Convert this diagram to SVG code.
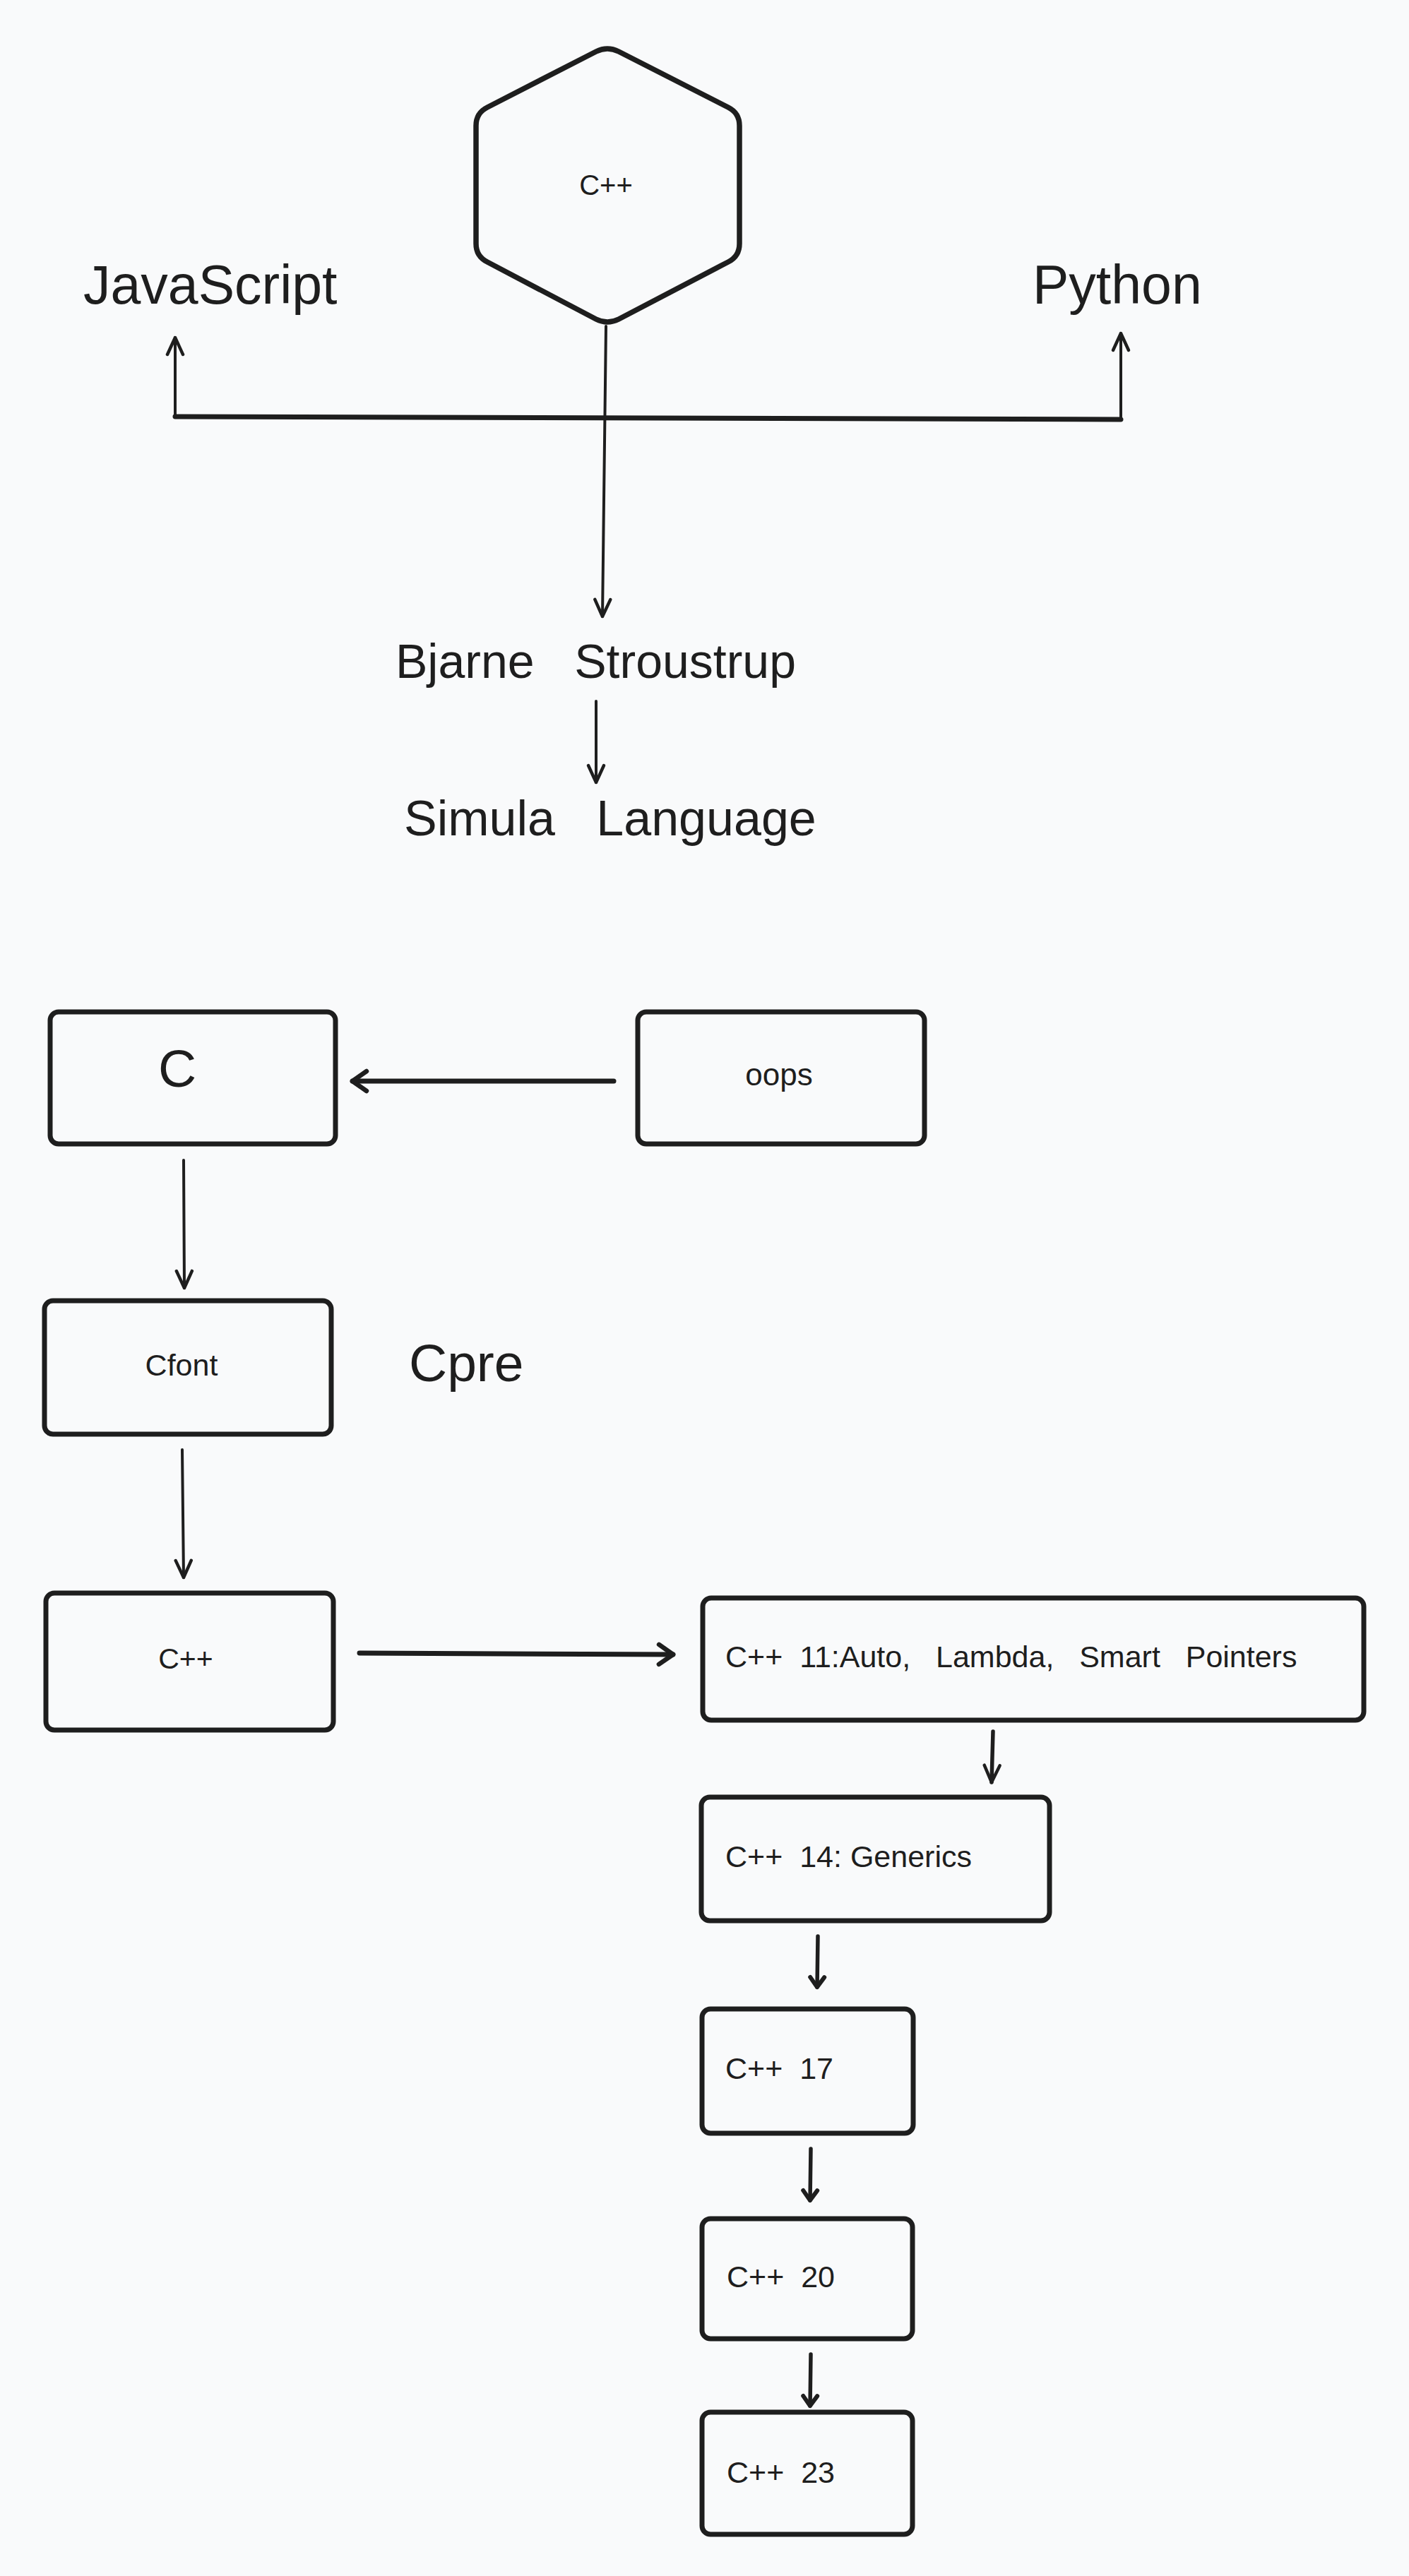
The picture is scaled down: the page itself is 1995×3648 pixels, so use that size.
<svg xmlns="http://www.w3.org/2000/svg" width="1995" height="3648" viewBox="0 0 1995 3648" xml:space="preserve">
<defs>
<style>
.bg{fill:#f9fafb}
.box{fill:#f9fafb;stroke:#1e1e1e;stroke-width:7;stroke-linejoin:round}
.t{font-family:"Liberation Sans",Arial,sans-serif;fill:#1e1e1e;white-space:pre}
.c{fill:none;stroke:#1e1e1e;stroke-linecap:round;stroke-linejoin:round}
.thin{stroke-width:4}
.mid{stroke-width:5.5}
.thick{stroke-width:7}
</style>
<marker id="hThin" markerUnits="userSpaceOnUse" viewBox="-40 -30 50 60" markerWidth="50" markerHeight="60" refX="0" refY="0" orient="auto" overflow="visible">
<path d="M -24,-11 L 0,0 L -24,11" fill="none" stroke="#1e1e1e" stroke-width="4.5" stroke-linecap="round" stroke-linejoin="round"/>
</marker>
<marker id="hThick" markerUnits="userSpaceOnUse" viewBox="-40 -30 50 60" markerWidth="50" markerHeight="60" refX="0" refY="0" orient="auto" overflow="visible">
<path d="M -20,-14 L 0,0 L -20,14" fill="none" stroke="#1e1e1e" stroke-width="6.5" stroke-linecap="round" stroke-linejoin="round"/>
</marker>
<marker id="hShort" markerUnits="userSpaceOnUse" viewBox="-40 -30 50 60" markerWidth="50" markerHeight="60" refX="0" refY="0" orient="auto" overflow="visible">
<path d="M -14,-10 L 0,0 L -14,10" fill="none" stroke="#1e1e1e" stroke-width="6" stroke-linecap="round" stroke-linejoin="round"/>
</marker>
</defs>
<rect class="bg" x="0" y="0" width="1995" height="3648"/>

<g id="connectors">
<path class="c thin" d="M 858,462 L 853,873" marker-end="url(#hThin)"/>
<path class="c thick" d="M 248,590 L 1587,594"/>
<path class="c thin" d="M 248,590 L 248,478" marker-end="url(#hThin)"/>
<path class="c thin" d="M 1587,594 L 1587,472" marker-end="url(#hThin)"/>
<path class="c thin" d="M 844,993 L 844,1108" marker-end="url(#hThin)"/>
<path class="c thick" d="M 869,1531 L 499,1531" marker-end="url(#hThick)"/>
<path class="c thin" d="M 260,1643 L 261,1824" marker-end="url(#hThin)"/>
<path class="c thin" d="M 258,2053 L 260,2234" marker-end="url(#hThin)"/>
<path class="c thick" d="M 509,2341 L 953,2343" marker-end="url(#hThick)"/>
<path class="c mid" d="M 1406,2452 L 1404,2524" marker-end="url(#hThin)"/>
<path class="c mid" d="M 1158,2742 L 1157,2814" marker-end="url(#hShort)"/>
<path class="c mid" d="M 1148,3043 L 1147,3116" marker-end="url(#hShort)"/>
<path class="c mid" d="M 1148,3334 L 1147,3407" marker-end="url(#hShort)"/>
</g>

<g id="hexagon-cpp">
<path class="box" style="stroke-width:7.5" d="M 876,73 L 1031,152 Q 1047,160 1047,178 L 1047,345 Q 1047,363 1031,371 L 876,452 Q 860,460 844,452 L 690,371 Q 674,363 674,345 L 674,178 Q 674,160 690,152 L 844,73 Q 860,65 876,73 Z"/>
<text class="t" x="858" y="276" font-size="40" text-anchor="middle">C++</text>
</g>

<g id="javascript">
<text class="t" x="118" y="430" font-size="77">JavaScript</text>
</g>
<g id="python">
<text class="t" x="1462" y="430" font-size="77">Python</text>
</g>
<g id="bjarne">
<text class="t" x="560" y="960" font-size="68">Bjarne   Stroustrup</text>
</g>
<g id="simula">
<text class="t" x="572" y="1183" font-size="70">Simula   Language</text>
</g>

<g id="node-c">
<rect class="box" x="71" y="1433" width="404" height="187" rx="12"/>
<text class="t" x="251" y="1539" font-size="75" text-anchor="middle">C</text>
</g>
<g id="node-oops">
<rect class="box" x="903" y="1433" width="406" height="187" rx="12"/>
<text class="t" x="1103" y="1537" font-size="44" text-anchor="middle">oops</text>
</g>
<g id="node-cfont">
<rect class="box" x="63" y="1842" width="406" height="189" rx="12"/>
<text class="t" x="257" y="1948" font-size="43" text-anchor="middle">Cfont</text>
</g>
<g id="cpre">
<text class="t" x="579" y="1956" font-size="75">Cpre</text>
</g>
<g id="node-cpp">
<rect class="box" x="65" y="2256" width="407" height="194" rx="12"/>
<text class="t" x="263" y="2363" font-size="41" text-anchor="middle">C++</text>
</g>
<g id="node-cpp11">
<rect class="box" x="995" y="2263" width="936" height="173" rx="12"/>
<text class="t" x="1027" y="2361" font-size="43">C++  11:Auto,   Lambda,   Smart   Pointers</text>
</g>
<g id="node-cpp14">
<rect class="box" x="993" y="2545" width="493" height="175" rx="12"/>
<text class="t" x="1027" y="2644" font-size="43">C++  14: Generics</text>
</g>
<g id="node-cpp17">
<rect class="box" x="994" y="2845" width="299" height="176" rx="12"/>
<text class="t" x="1027" y="2944" font-size="43">C++  17</text>
</g>
<g id="node-cpp20">
<rect class="box" x="994" y="3142" width="298" height="170" rx="12"/>
<text class="t" x="1029" y="3239" font-size="43">C++  20</text>
</g>
<g id="node-cpp23">
<rect class="box" x="994" y="3416" width="298" height="173" rx="12"/>
<text class="t" x="1029" y="3516" font-size="43">C++  23</text>
</g>
</svg>
